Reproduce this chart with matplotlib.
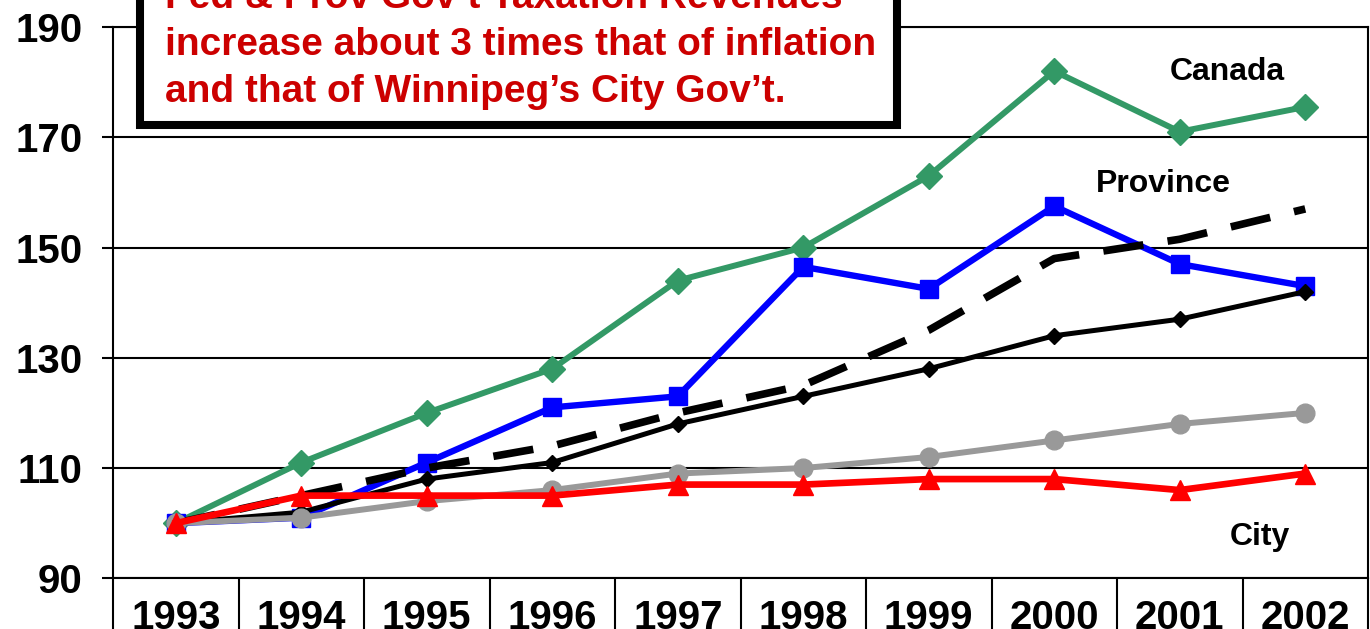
import matplotlib
matplotlib.use('Agg')
import matplotlib.pyplot as plt
from matplotlib.patches import Rectangle

years = ['1993', '1994', '1995', '1996', '1997', '1998', '1999', '2000', '2001', '2002']
canada = [100, 111, 120, 128, 144, 150, 163, 182, 171, 175.5]
province = [100, 101, 111, 121, 123, 146.5, 142.5, 157.5, 147, 143]
series_black = [100, 102, 108, 111, 118, 123, 128, 134, 137, 142]
series_dashed = [100, 105, 110, 114, 120, 125, 135, 148, 151.5, 157]
inflation = [100, 101, 104, 106, 109, 110, 112, 115, 118, 120]
city = [100, 105, 105, 105, 107, 107, 108, 108, 106, 109]

box_lines = ["Fed & Prov Gov\u2019t Taxation Revenues",
             "increase about 3 times that of inflation",
             "and that of Winnipeg\u2019s City Gov\u2019t."]

plt.rcParams['font.family'] = ['Liberation Sans', 'DejaVu Sans']

W, H = 1370, 629
fig = plt.figure(figsize=(W / 100, H / 100), dpi=100)
ax = fig.add_axes([113 / W, 1 - 578.3 / H, (1368 - 113) / W, (578.3 - 27) / H])

x = list(range(len(years)))
ax.plot(x, canada, color='#339966', lw=4.3, marker='D', ms=13, zorder=3, clip_on=False)
ax.plot(x, province, color='#0000FF', lw=4.6, marker='s', ms=12.5, zorder=4, clip_on=False)
ax.plot(x, series_black, color='black', lw=3.6, marker='D', ms=8, zorder=5, clip_on=False)
ax.plot(x, series_dashed, color='black', lw=5.5, ls=(0, (5.3, 3.2)), zorder=6, clip_on=False)
ax.plot(x, inflation, color='#999999', lw=4.3, marker='o', ms=13.5, zorder=7, clip_on=False)
ax.plot(x, city, color='#FF0000', lw=4.8, marker='^', ms=14, zorder=8, clip_on=False)

ax.set_xlim(-0.5, 9.5)
ax.set_ylim(90, 190)
ax.set_yticks(range(90, 191, 20))
ax.yaxis.grid(True, color='black', lw=1.5)
ax.set_axisbelow(True)
ax.tick_params(axis='y', length=8, width=1.5, direction='out', labelsize=29, pad=14, colors='black')

ax.set_xticks(x)
ax.set_xticklabels(years)
ax.set_xticks([i - 0.5 for i in range(len(years) + 1)], minor=True)
ax.tick_params(axis='x', which='major', length=0, pad=15, labelsize=29)
ax.tick_params(axis='x', which='minor', length=45, width=1.5, direction='out')
for lab in ax.get_xticklabels() + ax.get_yticklabels():
    lab.set_fontweight('bold')
for sp in ax.spines.values():
    sp.set_linewidth(1.5)
    sp.set_color('black')

ax.text(8.38, 180.4, 'Canada', fontsize=23, fontweight='bold', ha='center', va='baseline', zorder=10)
ax.text(7.87, 160.1, 'Province', fontsize=23, fontweight='bold', ha='center', va='baseline', zorder=10)
ax.text(8.64, 96.0, 'City', fontsize=23, fontweight='bold', ha='center', va='baseline', zorder=10)

# annotation box
rect = Rectangle((140 / W, 1 - 125 / H), (897 - 140) / W, 200 / H, transform=fig.transFigure,
                 facecolor='white', edgecolor='black', lw=5.8, zorder=20)
fig.add_artist(rect)
baselines = [8, 55, 102]
for line, b in zip(box_lines, baselines):
    fig.text(165 / W, 1 - b / H, line, fontsize=28, fontweight='bold', color='#CC0000',
             ha='left', va='baseline', zorder=21)

fig.savefig('out.png', dpi=100)
